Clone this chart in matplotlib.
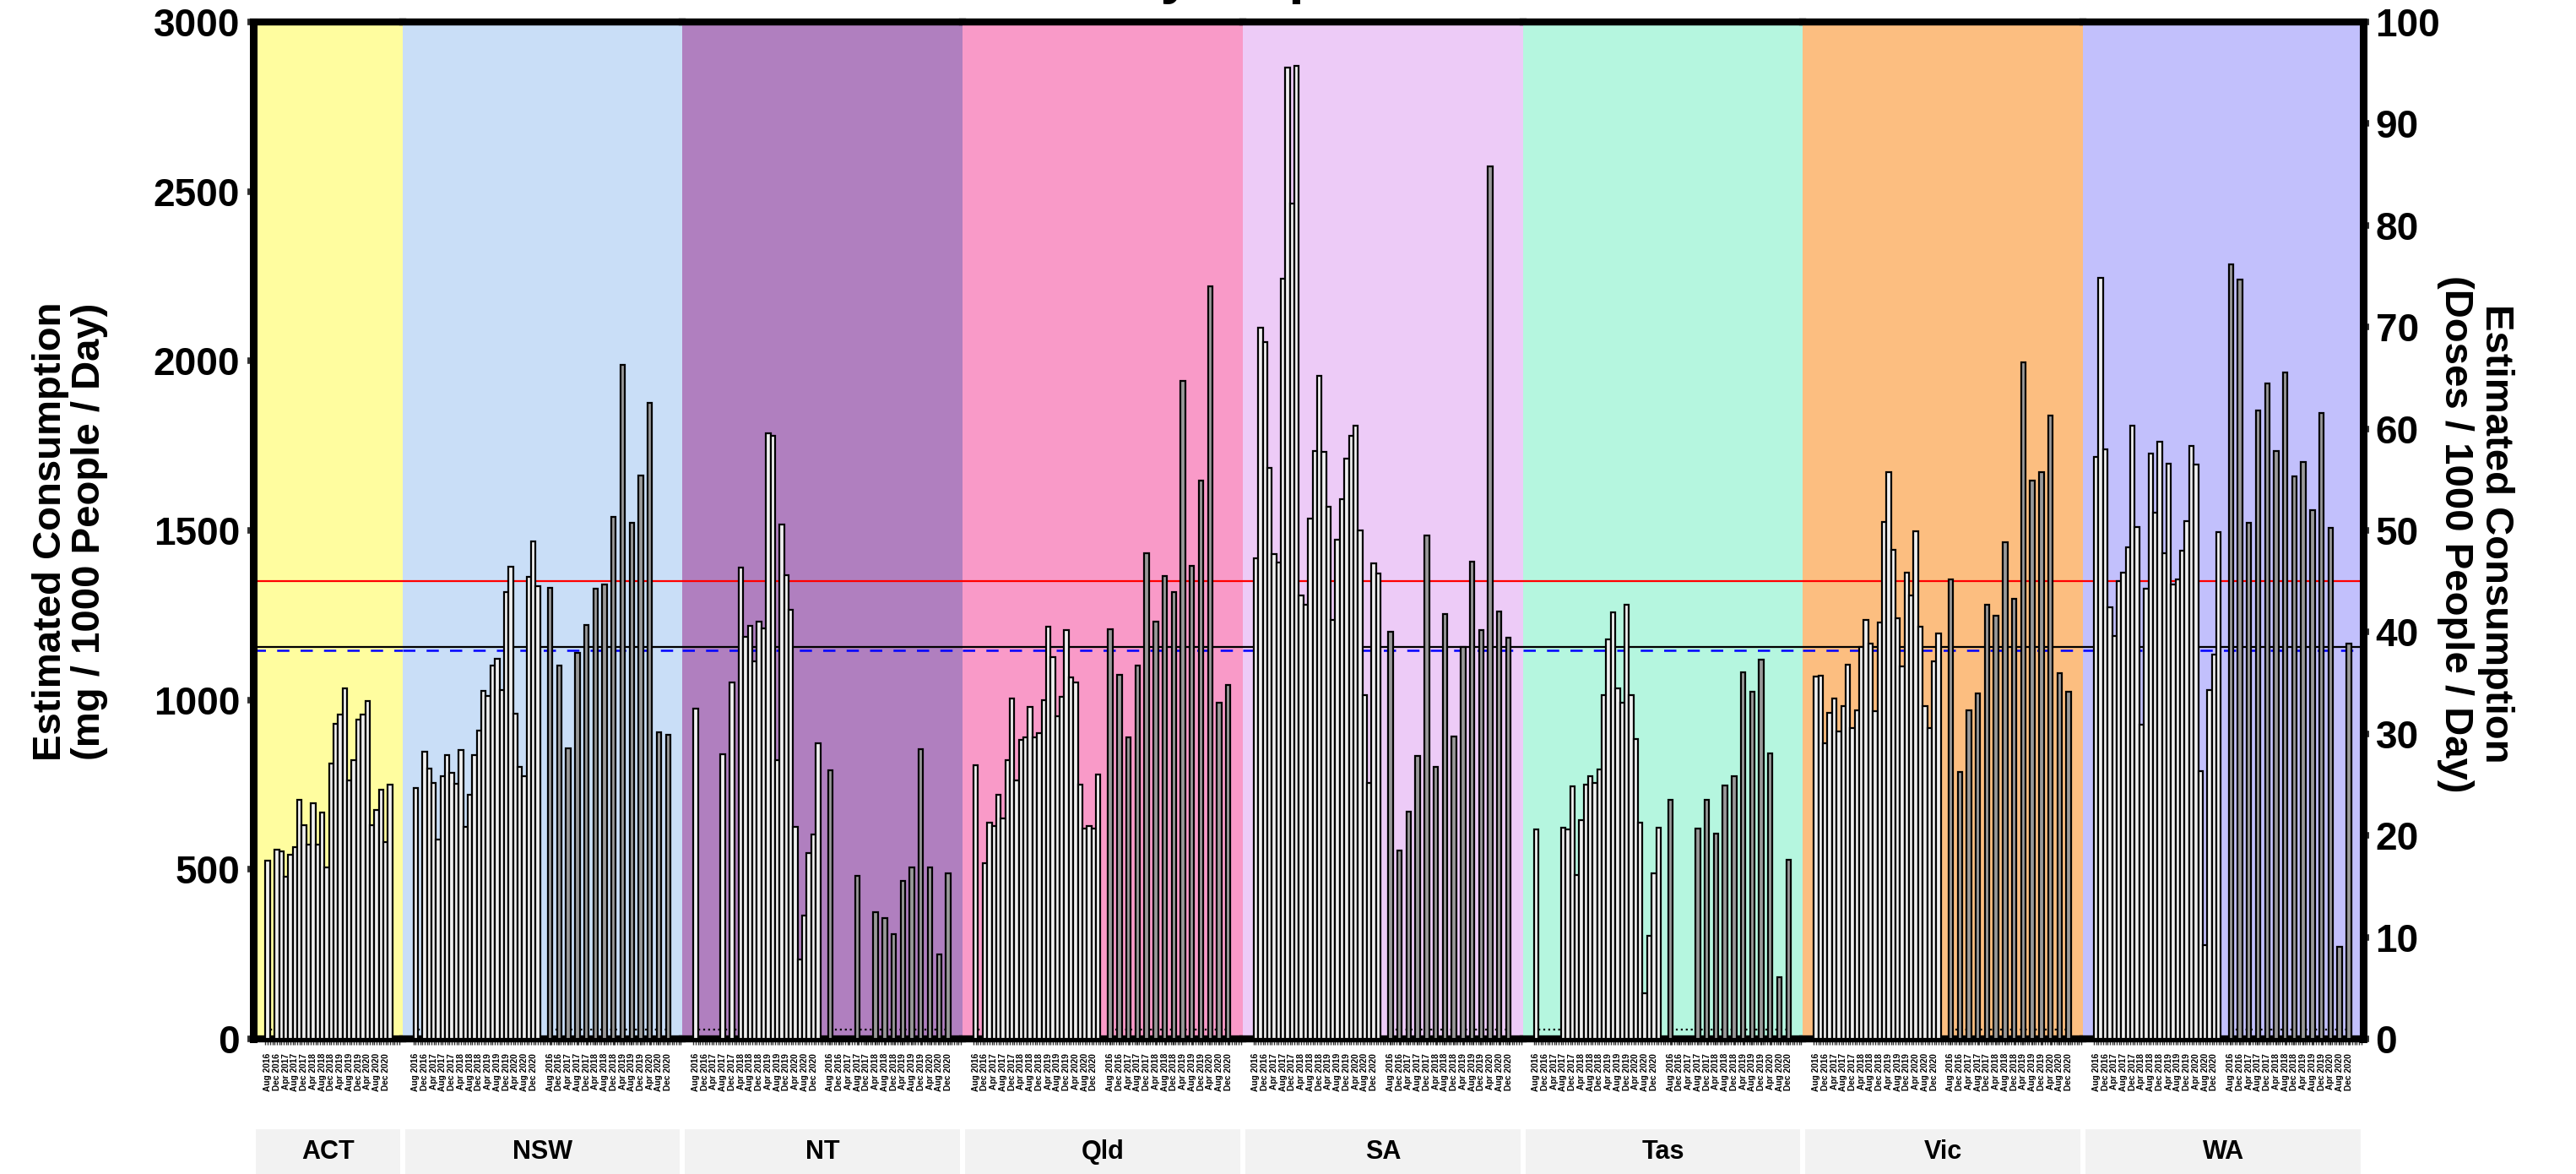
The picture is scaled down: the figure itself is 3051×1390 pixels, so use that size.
import numpy as np
import matplotlib.pyplot as plt
from matplotlib.patches import Rectangle

plt.rcParams['font.family'] = ['Liberation Sans', 'DejaVu Sans']
plt.rcParams['font.weight'] = 'bold'

nan = np.nan

states = ["ACT", "NSW", "NT", "Qld", "SA", "Tas", "Vic", "WA"]
state_colors = ["#FFFD9F", "#C9DEF7", "#B07FBF", "#F99AC8",
                "#EDCBF7", "#B5F6DF", "#FCBE80", "#C2C0FC"]

date_labels = ["Aug 2016", "Dec 2016", "Apr 2017", "Aug 2017", "Dec 2017",
               "Apr 2018", "Aug 2018", "Dec 2018", "Apr 2019", "Aug 2019",
               "Dec 2019", "Apr 2020", "Aug 2020", "Dec 2020"]

# capital city sites, every 2 months (mg / 1000 people / day)
act_capital = [526, nan, 558, 552, 479, 542, 566, 706, 631, 572, 694, 572, 668, 507,
               812, 930, 956, 1035, 763, 822, 942, 956, 997, 631, 676, 735, 581, 749]
nsw_capital = [739, nan, 846, 798, 755, 587, 775, 838, 784, 753, 851, 625, 719, 838,
               909, 1027, 1011, 1102, 1122, 1029, 1317, 1392, 960, 802, 775, 1364, 1468, 1336]
nt_capital = [975, nan, nan, nan, nan, nan, 839, nan, 1051, nan, 1391, 1187, 1218, 1114,
              1232, 1212, 1786, 1780, 822, 1518, 1368, 1267, 626, 233, 364, 548, 604, 872]
qld_capital = [808, nan, 518, 637, 629, 719, 650, 822, 1005, 763, 881, 889, 980, 889,
               903, 999, 1216, 1127, 952, 1009, 1206, 1066, 1051, 751, 621, 629, 621, 781]
sa_capital = [1417, 2099, 2056, 1685, 1429, 1405, 2243, 2866, 2464, 2870, 1307, 1281, 1535, 1734,
              1955, 1731, 1571, 1236, 1472, 1591, 1713, 1778, 1809, 1500, 1015, 755, 1403, 1374]
tas_capital = [619, nan, nan, nan, nan, nan, 623, 617, 745, 483, 645, 749, 775, 755,
               794, 1013, 1179, 1259, 1035, 991, 1281, 1015, 885, 637, 134, 305, 489, 623]
vic_capital = [1068, 1072, 871, 962, 1005, 907, 982, 1104, 917, 970, 1157, 1236, 1167, 966,
               1228, 1524, 1671, 1443, 1242, 1100, 1376, 1307, 1498, 1216, 982, 917, 1114, 1196]
wa_capital = [1717, 2245, 1740, 1273, 1189, 1350, 1376, 1449, 1809, 1510, 926, 1327, 1727, 1553,
              1762, 1433, 1697, 1340, 1356, 1441, 1528, 1750, 1695, 790, 276, 1029, 1133, 1496]

# regional sites, every 4 months
nsw_regional = [1330, 1102, 857, 1139, 1220, 1328, 1340, 1541, 1989, 1522, 1662, 1876, 905, 897]
nt_regional = [792, nan, nan, 481, nan, 374, 357, 309, 467, 505, 855, 507, 248, 489]
qld_regional = [1208, 1074, 889, 1102, 1433, 1232, 1366, 1319, 1941, 1395, 1648, 2221, 991, 1045]
sa_regional = [1202, 556, 670, 834, 1484, 802, 1254, 893, 1157, 1409, 1206, 2574, 1261, 1183]
tas_regional = [704, nan, nan, 621, 704, 605, 747, 775, 1082, 1025, 1118, 842, 181, 528]
vic_regional = [1356, 788, 970, 1019, 1281, 1248, 1464, 1297, 1997, 1648, 1673, 1839, 1080, 1023]
wa_regional = [2286, 2239, 1522, 1855, 1934, 1733, 1965, 1660, 1703, 1559, 1847, 1508, 272, 1167]

capital = [act_capital, nsw_capital, nt_capital, qld_capital,
           sa_capital, tas_capital, vic_capital, wa_capital]
regional = [None, nsw_regional, nt_regional, qld_regional,
            sa_regional, tas_regional, vic_regional, wa_regional]

red_line = 1350
black_line = 1157
blue_line = 1146
lod_line = 28

W, H = 3051, 1390
fig = plt.figure(figsize=(W / 100, H / 100), dpi=100)

reg_start = 29.7
lims_full = (-2.9, 58.9)
lims_act = (-3.2, 29.7)
ratios = [lims_act[1] - lims_act[0]] + [lims_full[1] - lims_full[0]] * 7

gs = fig.add_gridspec(1, 8, left=300 / W, right=2799 / W, bottom=1 - 1230 / H,
                      top=1 - 26 / H, wspace=0, width_ratios=ratios)


def nan_runs(vals):
    idx = [i for i, v in enumerate(vals) if np.isnan(v)]
    runs = []
    for i in idx:
        if runs and runs[-1][1] == i - 1:
            runs[-1][1] = i
        else:
            runs.append([i, i])
    return runs


axes = []
for i, st in enumerate(states):
    ax = fig.add_subplot(gs[0, i])
    axes.append(ax)
    ax.set_facecolor(state_colors[i])
    lims = lims_act if i == 0 else lims_full
    ax.set_xlim(*lims)
    ax.set_ylim(0, 3000)

    ax.axhline(red_line, color="red", lw=1.6, zorder=1)
    ax.axhline(black_line, color="black", lw=1.6, zorder=1)
    ax.axhline(blue_line, color="blue", lw=1.8, ls=(0, (5.8, 5.3)), zorder=1)

    cap = np.array(capital[i], dtype=float)
    xc = np.arange(len(cap))
    ok = ~np.isnan(cap)
    ax.bar(xc[ok], cap[ok], width=1.0, color="#F0F0F0", edgecolor="black",
           linewidth=1.6, zorder=3)
    for a, b in nan_runs(cap):
        ax.plot([a - 0.5, b + 0.5], [lod_line, lod_line], ls=":", color="black",
                lw=1.6, zorder=2)

    ticks = list(xc[::2])
    labels = list(date_labels)
    if regional[i] is not None:
        reg = np.array(regional[i], dtype=float)
        xr = reg_start + 2 * np.arange(len(reg))
        okr = ~np.isnan(reg)
        ax.plot([xr[0], xr[-1]], [lod_line, lod_line], ls=":", color="black",
                lw=1.6, zorder=2)
        ax.bar(xr[okr], reg[okr], width=1.0, color="#999999", edgecolor="black",
               linewidth=1.6, zorder=3)
        ticks += list(xr)
        labels += date_labels

    ax.set_xticks(ticks)
    ax.set_xticklabels(labels, rotation=90, fontsize=7.3)
    ax.set_xticks(np.arange(-0.5, lims[1] - 0.3, 0.5), minor=True)
    ax.tick_params(axis="x", which="both", length=5, width=1.0, color="#333333", pad=7)

    for s in ["top", "bottom"]:
        ax.spines[s].set_linewidth(6)
        ax.spines[s].set_color("black")
    ax.spines["right"].set_visible(False)

    if i == len(states) - 1:
        ax2 = ax.twinx()
        ax2.set_ylim(0, 100)
        ax2.set_yticks(range(0, 101, 10))
        ax2.tick_params(axis="y", length=5, width=5.5, color="#333333",
                        labelsize=33, pad=5.5)
        for s in ["top", "bottom", "left"]:
            ax2.spines[s].set_visible(False)
        ax2.spines["right"].set_linewidth(6.5)

    if i == 0:
        ax.spines["left"].set_linewidth(6.5)
        ax.set_yticks(range(0, 3001, 500))
        ax.tick_params(axis="y", length=5, width=5.5, color="#333333",
                       labelsize=33, pad=6.5)
    else:
        ax.spines["left"].set_visible(False)
        ax.tick_params(axis="y", which="both", left=False, right=False,
                       labelleft=False, labelright=False)

# facet strips along the bottom
for ax, st in zip(axes, states):
    pos = ax.get_position()
    fig.patches.append(Rectangle((pos.x0 + 3 / W, 1 - 1395 / H), pos.width - 6 / W, 58 / H,
                                 transform=fig.transFigure, facecolor="#F2F2F2",
                                 edgecolor="none"))
    fig.text(pos.x0 + pos.width / 2, 1 - 1364 / H, st, ha="center", va="center",
             fontsize=22)

# axis titles
fig.text(60 / W, 1 - 629 / H, "Estimated Consumption", rotation=90,
         ha="center", va="center", fontsize=34)
fig.text(106 / W, 1 - 629 / H, "(mg / 1000 People / Day)", rotation=90,
         ha="center", va="center", fontsize=34)
fig.text(2956 / W, 1 - 632 / H, "Estimated Consumption", rotation=270,
         ha="center", va="center", fontsize=34)
fig.text(2908 / W, 1 - 632 / H, "(Doses / 1000 People / Day)", rotation=270,
         ha="center", va="center", fontsize=34)

# title sits mostly above the top edge, as in the original
fig.text(1540 / W, 1 + 9 / H, "Methylamphetamine", ha="center", va="baseline",
         fontsize=48)

fig.savefig("out.png", dpi=100)
